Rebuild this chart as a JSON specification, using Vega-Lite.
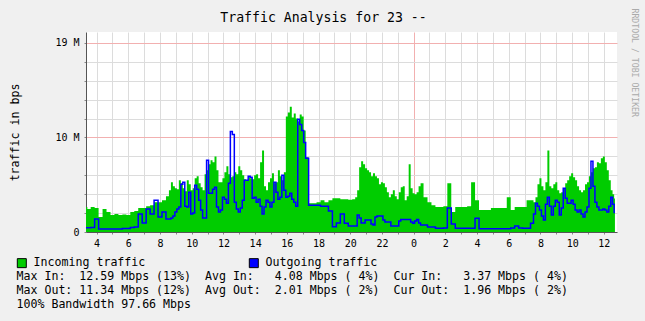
{
 "$schema": "https://vega.github.io/schema/vega-lite/v6.json",
 "width": 531,
 "height": 200,
 "autosize": {"type": "none"},
 "padding": {"left": 86, "top": 32, "right": 28, "bottom": 89},
 "background": "#f0f0f0",
 "config": {"view": {"fill": "white", "stroke": null}, "font": "DejaVu Sans Mono"},
 "data": {"values": [
  {"h":3.33,"incoming":2.5,"outgoing":0.43},
  {"h":3.5,"incoming":2.3,"outgoing":0.43},
  {"h":3.75,"incoming":2.5,"outgoing":0.45},
  {"h":4.0,"incoming":2.4,"outgoing":1.3},
  {"h":4.25,"incoming":1.5,"outgoing":0.3},
  {"h":4.5,"incoming":2.3,"outgoing":0.3},
  {"h":4.75,"incoming":2.0,"outgoing":0.3},
  {"h":5.0,"incoming":1.7,"outgoing":0.3},
  {"h":5.25,"incoming":1.8,"outgoing":0.3},
  {"h":5.5,"incoming":1.7,"outgoing":0.3},
  {"h":5.75,"incoming":1.75,"outgoing":0.35},
  {"h":6.0,"incoming":1.7,"outgoing":0.35},
  {"h":6.25,"incoming":2.0,"outgoing":0.45},
  {"h":6.5,"incoming":2.1,"outgoing":0.5},
  {"h":6.75,"incoming":2.4,"outgoing":1.8},
  {"h":7.0,"incoming":2.4,"outgoing":0.9},
  {"h":7.25,"incoming":2.6,"outgoing":2.3},
  {"h":7.5,"incoming":2.7,"outgoing":1.8},
  {"h":7.75,"incoming":3.0,"outgoing":3.2},
  {"h":8.0,"incoming":3.0,"outgoing":1.5},
  {"h":8.25,"incoming":3.2,"outgoing":2.0},
  {"h":8.5,"incoming":3.6,"outgoing":1.3},
  {"h":8.625,"incoming":4.2,"outgoing":1.3},
  {"h":8.75,"incoming":5.0,"outgoing":1.4},
  {"h":8.875,"incoming":4.6,"outgoing":1.6},
  {"h":9.0,"incoming":4.4,"outgoing":2.0},
  {"h":9.125,"incoming":4.3,"outgoing":2.3},
  {"h":9.25,"incoming":5.2,"outgoing":2.5},
  {"h":9.375,"incoming":4.9,"outgoing":4.8},
  {"h":9.5,"incoming":4.4,"outgoing":5.0},
  {"h":9.625,"incoming":4.1,"outgoing":2.6},
  {"h":9.75,"incoming":5.2,"outgoing":2.5},
  {"h":9.875,"incoming":4.8,"outgoing":4.0},
  {"h":10.0,"incoming":4.2,"outgoing":1.8},
  {"h":10.125,"incoming":4.4,"outgoing":1.9},
  {"h":10.25,"incoming":5.4,"outgoing":4.7},
  {"h":10.375,"incoming":5.6,"outgoing":4.3},
  {"h":10.5,"incoming":4.9,"outgoing":3.2},
  {"h":10.625,"incoming":4.5,"outgoing":2.2},
  {"h":10.75,"incoming":4.2,"outgoing":1.4},
  {"h":10.875,"incoming":5.8,"outgoing":1.4},
  {"h":11.0,"incoming":6.2,"outgoing":7.2},
  {"h":11.125,"incoming":6.8,"outgoing":3.9},
  {"h":11.25,"incoming":7.2,"outgoing":3.9},
  {"h":11.375,"incoming":7.0,"outgoing":4.3},
  {"h":11.5,"incoming":7.6,"outgoing":4.5},
  {"h":11.625,"incoming":6.2,"outgoing":2.5},
  {"h":11.75,"incoming":5.0,"outgoing":2.0},
  {"h":11.875,"incoming":5.0,"outgoing":2.2},
  {"h":12.0,"incoming":5.4,"outgoing":3.5},
  {"h":12.125,"incoming":6.0,"outgoing":3.3},
  {"h":12.25,"incoming":6.6,"outgoing":2.9},
  {"h":12.375,"incoming":5.8,"outgoing":4.9},
  {"h":12.5,"incoming":5.5,"outgoing":10.1},
  {"h":12.625,"incoming":5.6,"outgoing":9.8},
  {"h":12.75,"incoming":6.0,"outgoing":3.0},
  {"h":12.875,"incoming":5.8,"outgoing":2.3},
  {"h":13.0,"incoming":6.6,"outgoing":2.0},
  {"h":13.125,"incoming":6.2,"outgoing":2.4},
  {"h":13.25,"incoming":5.7,"outgoing":3.2},
  {"h":13.375,"incoming":5.3,"outgoing":5.2},
  {"h":13.5,"incoming":5.2,"outgoing":5.2},
  {"h":13.625,"incoming":5.5,"outgoing":5.6},
  {"h":13.75,"incoming":5.4,"outgoing":5.5},
  {"h":13.875,"incoming":5.3,"outgoing":3.4},
  {"h":14.0,"incoming":5.7,"outgoing":3.5},
  {"h":14.125,"incoming":5.8,"outgoing":3.0},
  {"h":14.25,"incoming":5.4,"outgoing":3.3},
  {"h":14.375,"incoming":7.0,"outgoing":2.6},
  {"h":14.5,"incoming":8.2,"outgoing":1.8},
  {"h":14.625,"incoming":4.6,"outgoing":2.5},
  {"h":14.75,"incoming":4.2,"outgoing":3.2},
  {"h":14.875,"incoming":5.0,"outgoing":3.0},
  {"h":15.0,"incoming":5.4,"outgoing":2.5},
  {"h":15.125,"incoming":5.9,"outgoing":3.0},
  {"h":15.25,"incoming":4.9,"outgoing":5.0},
  {"h":15.375,"incoming":5.0,"outgoing":4.0},
  {"h":15.5,"incoming":6.2,"outgoing":3.3},
  {"h":15.625,"incoming":5.6,"outgoing":3.5},
  {"h":15.75,"incoming":5.2,"outgoing":5.7},
  {"h":15.875,"incoming":6.0,"outgoing":4.2},
  {"h":16.0,"incoming":11.6,"outgoing":3.5},
  {"h":16.125,"incoming":12.0,"outgoing":3.6},
  {"h":16.25,"incoming":12.59,"outgoing":3.9},
  {"h":16.375,"incoming":11.5,"outgoing":3.3},
  {"h":16.5,"incoming":11.9,"outgoing":3.0},
  {"h":16.625,"incoming":11.4,"outgoing":2.6},
  {"h":16.75,"incoming":11.1,"outgoing":11.34},
  {"h":16.875,"incoming":11.8,"outgoing":10.8},
  {"h":17.0,"incoming":11.6,"outgoing":10.2},
  {"h":17.125,"incoming":10.2,"outgoing":9.0},
  {"h":17.25,"incoming":7.5,"outgoing":7.4},
  {"h":17.5,"incoming":2.9,"outgoing":2.7},
  {"h":17.75,"incoming":2.9,"outgoing":2.7},
  {"h":18.0,"incoming":3.0,"outgoing":2.7},
  {"h":18.25,"incoming":3.2,"outgoing":2.6},
  {"h":18.5,"incoming":3.0,"outgoing":2.6},
  {"h":18.75,"incoming":3.2,"outgoing":2.1},
  {"h":19.0,"incoming":3.4,"outgoing":0.53},
  {"h":19.25,"incoming":3.4,"outgoing":0.9},
  {"h":19.5,"incoming":3.3,"outgoing":1.8},
  {"h":19.75,"incoming":3.3,"outgoing":0.87},
  {"h":20.0,"incoming":3.25,"outgoing":0.6},
  {"h":20.25,"incoming":3.3,"outgoing":0.6},
  {"h":20.375,"incoming":3.5,"outgoing":0.6},
  {"h":20.5,"incoming":4.2,"outgoing":1.7},
  {"h":20.625,"incoming":6.5,"outgoing":1.4},
  {"h":20.75,"incoming":7.1,"outgoing":0.9},
  {"h":20.875,"incoming":6.8,"outgoing":0.9},
  {"h":21.0,"incoming":6.4,"outgoing":1.2},
  {"h":21.125,"incoming":6.2,"outgoing":1.2},
  {"h":21.25,"incoming":6.0,"outgoing":1.2},
  {"h":21.375,"incoming":5.6,"outgoing":0.8},
  {"h":21.5,"incoming":5.9,"outgoing":0.7},
  {"h":21.625,"incoming":5.6,"outgoing":1.5},
  {"h":21.75,"incoming":5.4,"outgoing":1.6},
  {"h":21.875,"incoming":4.8,"outgoing":1.6},
  {"h":22.0,"incoming":5.0,"outgoing":1.6},
  {"h":22.125,"incoming":4.9,"outgoing":1.2},
  {"h":22.25,"incoming":4.5,"outgoing":1.0},
  {"h":22.375,"incoming":4.0,"outgoing":1.0},
  {"h":22.5,"incoming":3.5,"outgoing":1.0},
  {"h":22.625,"incoming":3.8,"outgoing":0.6},
  {"h":22.75,"incoming":4.2,"outgoing":0.6},
  {"h":22.875,"incoming":3.6,"outgoing":0.6},
  {"h":23.0,"incoming":3.3,"outgoing":0.6},
  {"h":23.125,"incoming":4.0,"outgoing":1.1},
  {"h":23.25,"incoming":4.5,"outgoing":1.26},
  {"h":23.375,"incoming":4.6,"outgoing":1.26},
  {"h":23.5,"incoming":3.2,"outgoing":1.26},
  {"h":23.625,"incoming":3.6,"outgoing":1.26},
  {"h":23.75,"incoming":6.8,"outgoing":1.26},
  {"h":23.875,"incoming":4.4,"outgoing":1.0},
  {"h":24.0,"incoming":3.9,"outgoing":0.87},
  {"h":24.125,"incoming":3.8,"outgoing":1.1},
  {"h":24.25,"incoming":4.0,"outgoing":1.26},
  {"h":24.375,"incoming":4.6,"outgoing":0.9},
  {"h":24.5,"incoming":4.9,"outgoing":0.7},
  {"h":24.75,"incoming":3.5,"outgoing":0.7},
  {"h":25.0,"incoming":3.0,"outgoing":0.5},
  {"h":25.25,"incoming":2.7,"outgoing":0.5},
  {"h":25.5,"incoming":2.5,"outgoing":0.37},
  {"h":25.75,"incoming":2.5,"outgoing":0.37},
  {"h":26.0,"incoming":2.6,"outgoing":0.4},
  {"h":26.25,"incoming":4.9,"outgoing":2.4},
  {"h":26.5,"incoming":2.0,"outgoing":0.8},
  {"h":26.75,"incoming":2.5,"outgoing":0.37},
  {"h":27.0,"incoming":2.5,"outgoing":0.37},
  {"h":27.25,"incoming":2.5,"outgoing":0.37},
  {"h":27.5,"incoming":2.6,"outgoing":0.37},
  {"h":27.75,"incoming":5.0,"outgoing":0.37},
  {"h":28.0,"incoming":3.2,"outgoing":1.37},
  {"h":28.25,"incoming":2.2,"outgoing":0.33},
  {"h":28.5,"incoming":2.2,"outgoing":0.33},
  {"h":28.75,"incoming":2.2,"outgoing":0.33},
  {"h":29.0,"incoming":2.4,"outgoing":0.33},
  {"h":29.25,"incoming":2.4,"outgoing":0.33},
  {"h":29.5,"incoming":2.4,"outgoing":0.33},
  {"h":29.75,"incoming":2.4,"outgoing":0.33},
  {"h":30.0,"incoming":3.5,"outgoing":0.33},
  {"h":30.25,"incoming":2.2,"outgoing":0.4},
  {"h":30.5,"incoming":2.5,"outgoing":0.6},
  {"h":30.75,"incoming":2.5,"outgoing":0.4},
  {"h":31.0,"incoming":2.5,"outgoing":0.37},
  {"h":31.25,"incoming":3.2,"outgoing":0.37},
  {"h":31.5,"incoming":3.2,"outgoing":0.87},
  {"h":31.625,"incoming":3.0,"outgoing":1.8},
  {"h":31.75,"incoming":3.5,"outgoing":2.9},
  {"h":31.875,"incoming":4.8,"outgoing":2.6},
  {"h":32.0,"incoming":5.4,"outgoing":2.2},
  {"h":32.125,"incoming":4.6,"outgoing":1.6},
  {"h":32.25,"incoming":4.2,"outgoing":1.2},
  {"h":32.375,"incoming":5.0,"outgoing":2.8},
  {"h":32.5,"incoming":8.2,"outgoing":3.5},
  {"h":32.625,"incoming":4.6,"outgoing":2.6},
  {"h":32.75,"incoming":4.4,"outgoing":1.7},
  {"h":32.875,"incoming":4.8,"outgoing":2.6},
  {"h":33.0,"incoming":5.0,"outgoing":3.2},
  {"h":33.125,"incoming":4.2,"outgoing":3.0},
  {"h":33.25,"incoming":3.9,"outgoing":1.7},
  {"h":33.375,"incoming":4.0,"outgoing":2.4},
  {"h":33.5,"incoming":4.4,"outgoing":4.4},
  {"h":33.625,"incoming":4.9,"outgoing":3.4},
  {"h":33.75,"incoming":5.2,"outgoing":2.9},
  {"h":33.875,"incoming":5.6,"outgoing":2.9},
  {"h":34.0,"incoming":5.9,"outgoing":3.2},
  {"h":34.125,"incoming":5.5,"outgoing":2.8},
  {"h":34.25,"incoming":5.2,"outgoing":2.2},
  {"h":34.375,"incoming":4.6,"outgoing":2.0},
  {"h":34.5,"incoming":4.2,"outgoing":2.2},
  {"h":34.625,"incoming":4.0,"outgoing":1.8},
  {"h":34.75,"incoming":4.2,"outgoing":1.5},
  {"h":34.875,"incoming":4.8,"outgoing":2.0},
  {"h":35.0,"incoming":5.0,"outgoing":2.5},
  {"h":35.125,"incoming":5.6,"outgoing":4.4},
  {"h":35.25,"incoming":6.0,"outgoing":7.1},
  {"h":35.375,"incoming":6.4,"outgoing":4.6},
  {"h":35.5,"incoming":6.5,"outgoing":3.0},
  {"h":35.625,"incoming":7.0,"outgoing":2.5},
  {"h":35.75,"incoming":6.9,"outgoing":2.2},
  {"h":35.875,"incoming":7.4,"outgoing":2.2},
  {"h":36.0,"incoming":7.6,"outgoing":2.3},
  {"h":36.125,"incoming":7.0,"outgoing":2.2},
  {"h":36.25,"incoming":6.2,"outgoing":2.0},
  {"h":36.375,"incoming":5.2,"outgoing":2.6},
  {"h":36.5,"incoming":4.2,"outgoing":3.5},
  {"h":36.6,"incoming":3.8,"outgoing":2.8},
  {"h":36.7,"incoming":3.37,"outgoing":1.96}
 ]},
 "layer": [
  {
   "mark": {"type": "area", "interpolate": "step"},
   "encoding": {
    "x": {"field": "h", "type": "quantitative",
     "scale": {"domain": [3.33, 36.83], "nice": false, "zero": false},
     "axis": {
      "orient": "bottom",
      "values": [4,5,6,7,8,9,10,11,12,13,14,15,16,17,18,19,20,21,22,23,24,25,26,27,28,29,30,31,32,33,34,35,36],
      "labelExpr": "datum.value % 2 == 0 ? '' + (datum.value % 24) : ''",
      "labelFont": "DejaVu Sans Mono", "labelFontSize": 10, "labelColor": "#000",
      "labelPadding": 4, "labelFlush": false, "labelOverlap": false,
      "tickSize": 2, "tickColor": "#888", "domainColor": "#555",
      "grid": true,
      "gridColor": {"condition": {"test": "datum.value == 24", "value": "#f2b0b0"}, "value": "#dcdcdc"},
      "title": ["Max\u00a0In:\u00a0\u00a012.59\u00a0Mbps\u00a0(13%)\u00a0\u00a0Avg\u00a0In:\u00a0\u00a0\u00a04.08\u00a0Mbps\u00a0(\u00a04%)\u00a0\u00a0Cur\u00a0In:\u00a0\u00a0\u00a03.37\u00a0Mbps\u00a0(\u00a04%)",
                "Max\u00a0Out:\u00a011.34\u00a0Mbps\u00a0(12%)\u00a0\u00a0Avg\u00a0Out:\u00a0\u00a02.01\u00a0Mbps\u00a0(\u00a02%)\u00a0\u00a0Cur\u00a0Out:\u00a0\u00a01.96\u00a0Mbps\u00a0(\u00a02%)",
                "100%\u00a0Bandwidth\u00a097.66\u00a0Mbps"],
      "titleFont": "DejaVu Sans Mono", "titleFontSize": 11.6, "titleFontWeight": "normal", "titleColor": "#000",
      "titleAlign": "left", "titleBaseline": "alphabetic", "titleX": -70, "titleY": 47,
      "titleLineHeight": 14, "titleLimit": 1000
     }
    },
    "y": {"field": "incoming", "type": "quantitative",
     "scale": {"domain": [0, 20.1], "nice": false},
     "axis": {
      "orient": "left",
      "values": [0,1.9,3.8,5.7,7.6,9.5,11.4,13.3,15.2,17.1,19],
      "labelExpr": "datum.value == 0 ? '0' : datum.value == 9.5 ? '10 M' : datum.value == 19 ? '19 M' : ''",
      "labelFont": "DejaVu Sans Mono", "labelFontSize": 10, "labelColor": "#000",
      "labelPadding": 5, "labelOverlap": false, "labelFlush": false,
      "tickSize": 2, "tickColor": "#888", "domainColor": "#555",
      "grid": true,
      "gridColor": {"condition": {"test": "datum.value == 9.5 || datum.value == 19", "value": "#f2b0b0"}, "value": "#dcdcdc"},
      "title": "traffic in bps",
      "titleFont": "DejaVu Sans Mono", "titleFontSize": 11.6, "titleFontWeight": "normal", "titleColor": "#000",
      "titleAngle": -90, "titleAlign": "center", "titleBaseline": "middle", "titleX": -71, "titleY": 100
     }
    },
    "color": {"datum": "Incoming traffic", "type": "nominal",
     "scale": {"domain": ["Incoming traffic", "Outgoing traffic"], "range": ["#00cc00", "#0000ff"]},
     "legend": {
      "orient": "none", "legendX": -70, "legendY": 225, "direction": "horizontal", "columns": 2,
      "columnPadding": 101, "title": null, "symbolType": "square", "symbolSize": 81,
      "symbolStrokeColor": "#000", "symbolStrokeWidth": 1, "symbolOpacity": 1,
      "labelFont": "DejaVu Sans Mono", "labelFontSize": 11.6, "labelColor": "#000", "labelOffset": 6, "padding": 0
     }
    }
   }
  },
  {
   "mark": {"type": "line", "interpolate": "step", "color": "#0000ff", "strokeWidth": 1.5},
   "encoding": {
    "x": {"field": "h", "type": "quantitative",
     "axis": {"orient": "top", "labels": false, "ticks": false, "domain": false, "grid": false,
      "title": "Traffic Analysis for 23 --",
      "titleFont": "DejaVu Sans Mono", "titleFontSize": 13.2, "titleFontWeight": "normal", "titleColor": "#000",
      "titleAlign": "center", "titleBaseline": "alphabetic", "titleX": 237, "titleY": -11}
    },
    "y": {"field": "outgoing", "type": "quantitative",
     "axis": {"orient": "right", "labels": false, "ticks": false, "domain": false, "grid": false,
      "title": "RRDTOOL / TOBI OETIKER",
      "titleFont": "DejaVu Sans Mono", "titleFontSize": 8.2, "titleFontWeight": "normal", "titleColor": "#aaaaaa",
      "titleAngle": 90, "titleAlign": "left", "titleBaseline": "middle", "titleX": 16, "titleY": -24}
    }
   }
  }
 ],
 "resolve": {"axis": {"x": "independent", "y": "independent"}}
}
